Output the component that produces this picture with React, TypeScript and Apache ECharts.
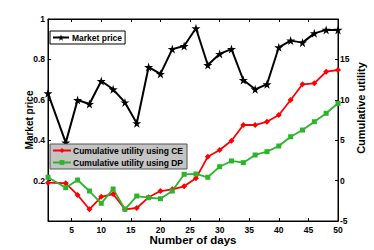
import React, { useEffect, useRef } from "react";
import * as echarts from "echarts";

const days = [1, 4, 6, 8, 10, 12, 14, 16, 18, 20, 22, 24, 26, 28, 30, 32, 34, 36, 38, 40, 42, 44, 46, 48, 50];
const marketPrice = [0.632, 0.388, 0.599, 0.579, 0.693, 0.652, 0.587, 0.484, 0.762, 0.728, 0.851, 0.866, 0.954, 0.772, 0.827, 0.851, 0.698, 0.652, 0.677, 0.86, 0.893, 0.883, 0.929, 0.946, 0.946];
const utilityCE = [-0.26, -0.33, -1.78, -3.55, -2.0, -1.66, -3.55, -3.39, -2.07, -1.29, -1.08, -0.7, 0.28, 2.96, 3.79, 4.94, 6.88, 6.88, 7.29, 8.12, 9.98, 11.92, 12.04, 13.48, 13.69];
const utilityDP = [0.41, -0.88, 0.07, -1.29, -2.81, -1.04, -3.55, -1.91, -2.12, -2.24, -1.29, 0.78, 0.82, 0.41, 1.72, 2.43, 2.22, 3.17, 3.58, 4.28, 5.43, 6.26, 7.29, 8.33, 9.57];
const xTicks = [5, 10, 15, 20, 25, 30, 35, 40, 45, 50];

const FONT = "Liberation Sans";
const STAR = "path://M50,0 L61,35 L98,35 L68,57 L79,91 L50,70 L21,91 L32,57 L2,35 L39,35 Z";

export default function App() {
  const ref = useRef<HTMLDivElement>(null);
  useEffect(() => {
    if (!ref.current) return;
    const chart = echarts.init(ref.current, undefined, { renderer: "svg" });
    const tickLabel = { fontFamily: FONT, fontWeight: "bold", fontSize: 8.5, color: "#000" };
    const pair = (ys: number[]) => days.map((d, i) => [d, ys[i]]);
    chart.setOption({
      animation: false,
      backgroundColor: "#fff",
      grid: { left: 48, right: 36, top: 19, bottom: 29, show: true, borderColor: "#000", borderWidth: 1, backgroundColor: "transparent" },
      xAxis: [
        {
          type: "value", min: 1, max: 50, position: "bottom",
          axisLine: { onZero: false, lineStyle: { color: "#000", width: 1 } },
          axisTick: { inside: true, length: 3, customValues: xTicks, lineStyle: { color: "#000" } },
          axisLabel: { ...tickLabel, margin: 4, customValues: xTicks },
          splitLine: { show: false },
        },
        {
          type: "value", min: 1, max: 50, position: "top",
          axisLine: { onZero: false, lineStyle: { color: "#000", width: 1 } },
          axisTick: { inside: true, length: 3, customValues: xTicks, lineStyle: { color: "#000" } },
          axisLabel: { show: false, customValues: xTicks },
          splitLine: { show: false },
        },
      ],
      yAxis: [
        {
          type: "value", min: 0, max: 1, interval: 0.2, position: "left",
          axisLine: { show: true, onZero: false, lineStyle: { color: "#000", width: 1 } },
          axisTick: { show: true, inside: true, length: 3, lineStyle: { color: "#000" } },
          axisLabel: { ...tickLabel, margin: 3, formatter: (v: number) => (v === 0 ? "" : String(Math.round(v * 10) / 10)) },
          splitLine: { show: false },
        },
        {
          type: "value", min: -5, max: 20, interval: 5, position: "right",
          axisLine: { show: true, onZero: false, lineStyle: { color: "#000", width: 1 } },
          axisTick: { show: true, inside: true, length: 3, lineStyle: { color: "#000" } },
          axisLabel: { ...tickLabel, margin: 2, formatter: (v: number) => (v === 20 ? "" : String(v)) },
          splitLine: { show: false },
        },
      ],
      legend: [
        {
          data: ["Market price"],
          left: 50, top: 31,
          backgroundColor: "#fff", borderColor: "#000", borderWidth: 1,
          padding: [2, 3, 2, 2],
          itemWidth: 16, itemHeight: 8,
          textStyle: { fontFamily: FONT, fontWeight: "bold", fontSize: 8.5, color: "#000", padding: [0, 0, 0, -2] },
        },
        {
          data: ["Cumulative utility using CE", "Cumulative utility using DP"],
          orient: "vertical",
          left: 50, top: 144,
          backgroundColor: "#c4c4c4", borderColor: "#555", borderWidth: 1,
          padding: [2, 4, 2, 2],
          itemGap: 3,
          itemWidth: 18, itemHeight: 6,
          textStyle: { fontFamily: FONT, fontWeight: "bold", fontSize: 8.5, color: "#000", padding: [0, 0, 0, -3] },
        },
      ],
      graphic: [
        { type: "text", x: 29, y: 120, rotation: Math.PI / 2, style: { text: "Market price", align: "center", verticalAlign: "middle", fontFamily: FONT, fontWeight: "bold", fontSize: 10, fill: "#000" } },
        { type: "text", x: 361, y: 108, rotation: Math.PI / 2, style: { text: "Cumulative utility", align: "center", verticalAlign: "middle", fontFamily: FONT, fontWeight: "bold", fontSize: 11, fill: "#000" } },
        { type: "text", x: 193, y: 240, style: { text: "Number of days", align: "center", verticalAlign: "middle", fontFamily: FONT, fontWeight: "bold", fontSize: 11.5, fill: "#000" } },
      ],
      series: [
        {
          name: "Market price", type: "line", xAxisIndex: 0, yAxisIndex: 0,
          data: pair(marketPrice),
          symbol: STAR, symbolSize: 9,
          lineStyle: { color: "#000", width: 2 },
          itemStyle: { color: "#000" },
        },
        {
          name: "Cumulative utility using CE", type: "line", xAxisIndex: 0, yAxisIndex: 1,
          data: pair(utilityCE),
          symbol: "diamond", symbolSize: 6,
          lineStyle: { color: "#ff0000", width: 1.8 },
          itemStyle: { color: "#ff0000" },
        },
        {
          name: "Cumulative utility using DP", type: "line", xAxisIndex: 0, yAxisIndex: 1,
          data: pair(utilityDP),
          symbol: "rect", symbolSize: 5,
          lineStyle: { color: "#2db42d", width: 1.8 },
          itemStyle: { color: "#2db42d" },
        },
      ],
    });
    return () => chart.dispose();
  }, []);
  return <div ref={ref} style={{ position: "fixed", left: 0, top: 0, width: 374, height: 250 }} />;
}
